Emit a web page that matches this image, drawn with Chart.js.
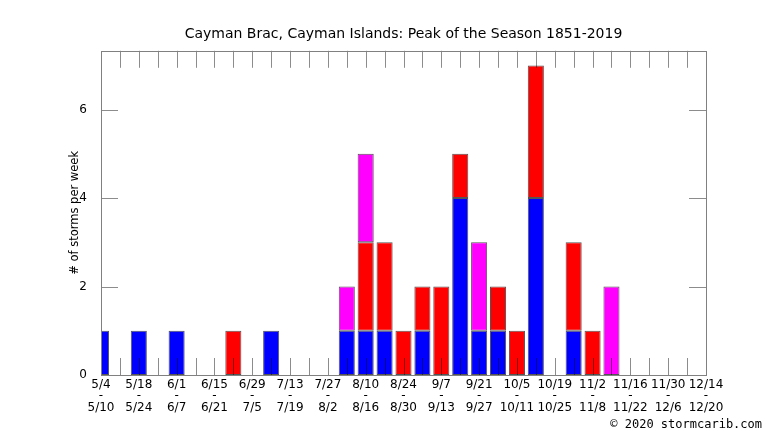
<!DOCTYPE html>
<html lang="en">

<head>
    <meta charset="UTF-8">
    <title>Cayman Brac, Cayman Islands: Peak of the Season 1851-2019</title>
    <script src="https://cdn.jsdelivr.net/npm/chart.js"></script>
    <style>
        html, body {
            margin: 0;
            padding: 0;
            background: #fff;
        }

        #chart-container {
            width: 766px;
            height: 431px;
        }
    </style>
</head>

<body>
    <div id="chart-container">
        <canvas id="chart"></canvas>
    </div>

    <script>
        // Week bins (start / end of each week)
        var weekStarts = ['5/4', '5/11', '5/18', '5/25', '6/1', '6/8', '6/15', '6/22', '6/29', '7/6', '7/13',
            '7/20', '7/27', '8/3', '8/10', '8/17', '8/24', '8/31', '9/7', '9/14', '9/21', '9/28', '10/5',
            '10/12', '10/19', '10/26', '11/2', '11/9', '11/16', '11/23', '11/30', '12/7', '12/14'];
        var weekEnds = ['5/10', '5/17', '5/24', '5/31', '6/7', '6/14', '6/21', '6/28', '7/5', '7/12', '7/19',
            '7/26', '8/2', '8/9', '8/16', '8/23', '8/30', '9/6', '9/13', '9/20', '9/27', '10/4', '10/11',
            '10/18', '10/25', '11/1', '11/8', '11/15', '11/22', '11/29', '12/6', '12/13', '12/20'];

        // Storms per week, stacked bottom to top
        var blueCounts = [1, 0, 1, 0, 1, 0, 0, 0, 0, 1, 0, 0, 0, 1, 1, 1, 0, 1, 0, 4, 1, 1, 0, 4, 0, 1, 0, 0, 0, 0, 0, 0, 0];
        var redCounts = [0, 0, 0, 0, 0, 0, 0, 1, 0, 0, 0, 0, 0, 0, 2, 2, 1, 1, 2, 1, 0, 1, 1, 3, 0, 2, 1, 0, 0, 0, 0, 0, 0];
        var magentaCounts = [0, 0, 0, 0, 0, 0, 0, 0, 0, 0, 0, 0, 0, 1, 2, 0, 0, 0, 0, 0, 2, 0, 0, 0, 0, 0, 0, 2, 0, 0, 0, 0, 0];

        var yTicks = [2, 4, 6];
        var yMax = 7.33;

        // Frame, inward tick marks and footer text
        var framePlugin = {
            id: 'frame',
            afterDatasetsDraw: function (chart) {
                var ctx = chart.ctx;
                var a = chart.chartArea;
                var x = chart.scales.x;
                var y = chart.scales.y;
                var len = 17;
                ctx.save();
                ctx.lineWidth = 1;
                ctx.strokeStyle = 'rgba(0,0,0,0.45)';
                ctx.beginPath();
                for (var i = 1; i < weekStarts.length - 1; i++) {
                    var px = Math.round(x.getPixelForValue(i)) + 0.5;
                    ctx.moveTo(px, a.top);
                    ctx.lineTo(px, a.top + len);
                    ctx.moveTo(px, a.bottom);
                    ctx.lineTo(px, a.bottom - len);
                }
                yTicks.forEach(function (v) {
                    var py = Math.round(y.getPixelForValue(v)) + 0.5;
                    ctx.moveTo(a.left, py);
                    ctx.lineTo(a.left + len, py);
                    ctx.moveTo(a.right, py);
                    ctx.lineTo(a.right - len, py);
                });
                ctx.stroke();
                ctx.strokeStyle = '#808080';
                ctx.strokeRect(Math.round(a.left) + 0.5, Math.round(a.top) + 0.5,
                    Math.round(a.right - a.left), Math.round(a.bottom - a.top));
                ctx.restore();
            },
            afterDraw: function (chart) {
                var ctx = chart.ctx;
                ctx.save();
                ctx.fillStyle = '#000';
                ctx.font = '12px "DejaVu Sans Mono"';
                ctx.textAlign = 'right';
                ctx.textBaseline = 'middle';
                ctx.fillText('\u00a9 2020 stormcarib.com', 762, 425);
                ctx.restore();
            }
        };

        var ctx = document.getElementById('chart').getContext('2d');
        var chart = new Chart(ctx, {
            type: 'bar',
            data: {
                labels: weekStarts,
                datasets: [{
                    label: 'blue',
                    data: blueCounts,
                    backgroundColor: '#0000ff'
                }, {
                    label: 'red',
                    data: redCounts,
                    backgroundColor: '#ff0000'
                }, {
                    label: 'magenta',
                    data: magentaCounts,
                    backgroundColor: '#ff00ff'
                }]
            },
            options: {
                responsive: true,
                maintainAspectRatio: false,
                animation: false,
                layout: {
                    padding: { left: 0, right: 60, top: 0, bottom: 0 }
                },
                datasets: {
                    bar: {
                        clip: 0,
                        borderColor: '#555555',
                        borderWidth: 1,
                        borderSkipped: false,
                        barPercentage: 0.85,
                        categoryPercentage: 1
                    }
                },
                plugins: {
                    legend: { display: false },
                    tooltip: { enabled: false },
                    title: {
                        display: true,
                        fullSize: false,
                        text: 'Cayman Brac, Cayman Islands: Peak of the Season 1851-2019',
                        color: '#000',
                        font: { family: 'DejaVu Sans', size: 14, weight: 'normal' },
                        padding: { top: 26, bottom: 8 }
                    }
                },
                scales: {
                    x: {
                        stacked: true,
                        offset: false,
                        grid: { display: false },
                        border: { display: false },
                        ticks: {
                            autoSkip: false,
                            maxRotation: 0,
                            padding: -4,
                            color: '#000',
                            font: { family: 'DejaVu Sans', size: 12, lineHeight: 0.95 },
                            callback: function (val, i) {
                                return i % 2 === 0 ? [weekStarts[i], '-', weekEnds[i]] : null;
                            }
                        },
                        afterFit: function (scale) {
                            scale.height = 56;
                        }
                    },
                    y: {
                        stacked: true,
                        min: 0,
                        max: yMax,
                        grid: { display: false },
                        border: { display: false },
                        ticks: {
                            stepSize: 2,
                            includeBounds: false,
                            padding: 6,
                            color: '#000',
                            font: { family: 'DejaVu Sans', size: 12 }
                        },
                        title: {
                            display: true,
                            text: '# of storms per week',
                            color: '#000',
                            font: { family: 'DejaVu Sans', size: 11.5 },
                            padding: { top: 68, bottom: 0 }
                        },
                        afterFit: function (scale) {
                            scale.width = 101;
                        }
                    }
                }
            },
            plugins: [framePlugin]
        });
    </script>
</body>

</html>
